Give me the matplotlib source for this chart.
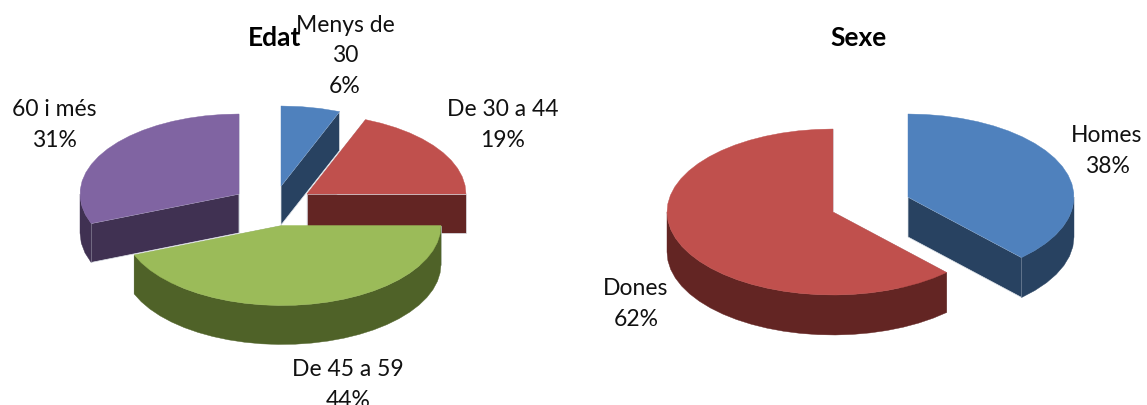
import numpy as np
import matplotlib
matplotlib.use('Agg')
import matplotlib.pyplot as plt
from matplotlib.patches import Polygon

plt.rcParams['font.family'] = ['Lato', 'DejaVu Sans']

# Data
edat_cats = ['Menys de\n30', 'De 30 a 44', 'De 45 a 59', '60 i més']
edat_vals = [6, 19, 44, 31]
sexe_cats = ['Homes', 'Dones']
sexe_vals = [38, 62]

# Colours (top, side)
top_edat = ['#4F81BD', '#C0504D', '#9BBB59', '#8064A2']
side_edat = ['#284261', '#632523', '#4F6228', '#403152']
top_sexe = ['#4F81BD', '#C0504D']
side_sexe = ['#284261', '#632523']

# Layout in pixels: slice tip, label centre
tips_edat = [(281, 187), (307, 195), (282, 226.5), (239, 195)]
lab_edat = [(345, 56), (503, 125), (348, 385), (54, 125)]
tips_sexe = [(908, 198), (833, 213)]
lab_sexe = [(1107, 151), (636, 304)]
draw_edat = [0, 1, 3, 2]
draw_sexe = [0, 1]
RX_E, RY_E, DEPTH_E = 159, 80, 39
RX_S, RY_S, DEPTH_S = 166, 83, 40


def arc(tip, rx, ry, t0, t1):
    # t is clockwise from the top of the pie, faceted like the original
    n = max(2, int(np.degrees(t1 - t0) / 6) + 1)
    t = np.linspace(t0, t1, n)
    return np.column_stack([tip[0] + rx * np.sin(t), tip[1] - ry * np.cos(t)])


def draw_pie(ax, vals, tips, tops, sides, order, rx, ry, depth):
    edges = np.radians(np.concatenate([[0], np.cumsum(vals)]) * 3.6)
    for i in order:
        t0, t1 = edges[i], edges[i + 1]
        tip = np.array(tips[i], dtype=float)
        down = np.array([0, depth])
        pts = arc(tip, rx, ry, t0, t1)
        # cut faces
        for p in (pts[0], pts[-1]):
            ax.add_patch(Polygon([tip, p, p + down, tip + down], fc=sides[i],
                                 ec='#dfe4ea', lw=0.5, zorder=2))
        # outer wall, front half only
        w0, w1 = max(t0, np.pi / 2), min(t1, 3 * np.pi / 2)
        if w1 > w0:
            wall = arc(tip, rx, ry, w0, w1)
            ax.add_patch(Polygon(np.vstack([wall, wall[::-1] + down]), fc=sides[i],
                                 ec=sides[i], lw=0.3, zorder=2))
        ax.add_patch(Polygon(np.vstack([tip, pts]), fc=tops[i], ec=tops[i], lw=0.3, zorder=2))


def draw_labels(ax, cats, vals, pos):
    for c, v, (x, y) in zip(cats, vals, pos):
        ax.text(x, y, '%s\n%d%%' % (c, v), ha='center', va='center', fontsize=16.5,
                linespacing=1.53, color='#111111', zorder=3)


fig = plt.figure(figsize=(11.47, 4.06), dpi=100)
ax = fig.add_axes([0, 0, 1, 1])
ax.set_xlim(0, 1147)
ax.set_ylim(406, 0)
ax.axis('off')

draw_pie(ax, edat_vals, tips_edat, top_edat, side_edat, draw_edat, RX_E, RY_E, DEPTH_E)
draw_pie(ax, sexe_vals, tips_sexe, top_sexe, side_sexe, draw_sexe, RX_S, RY_S, DEPTH_S)
draw_labels(ax, edat_cats, edat_vals, lab_edat)
draw_labels(ax, sexe_cats, sexe_vals, lab_sexe)

ax.text(275, 38, 'Edat', ha='center', va='center', fontsize=19, fontweight='bold', color='k', zorder=3)
ax.text(859, 38, 'Sexe', ha='center', va='center', fontsize=19, fontweight='bold', color='k', zorder=3)

fig.savefig('out.png', dpi=100)
